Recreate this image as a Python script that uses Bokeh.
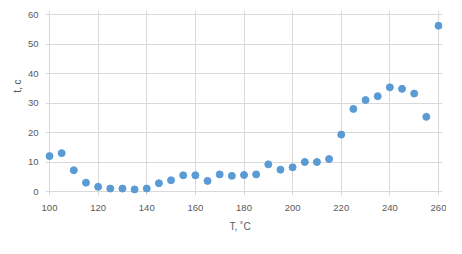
from bokeh.plotting import figure
from bokeh.models import Range1d, FixedTicker, Title
from bokeh.embed import file_html
from bokeh.resources import INLINE

T = [100, 105, 110, 115, 120, 125, 130, 135, 140, 145, 150, 155, 160, 165,
     170, 175, 180, 185, 190, 195, 200, 205, 210, 215, 220, 225, 230, 235,
     240, 245, 250, 255, 260]
t = [12.0, 13.0, 7.2, 3.0, 1.6, 1.0, 1.0, 0.7, 1.0, 2.8, 3.8, 5.5, 5.5, 3.6,
     5.8, 5.3, 5.6, 5.8, 9.2, 7.4, 8.2, 10.0, 10.0, 11.0, 19.3, 28.0, 31.0, 32.3,
     35.3, 34.8, 33.2, 25.3, 56.2]
x_ticks = [100, 120, 140, 160, 180, 200, 220, 240, 260]
y_ticks = [0, 10, 20, 30, 40, 50, 60]
x_title = "T, ˚C"
y_title = "t, c"

FONT = "Liberation Sans"
GRAY = "#595959"
GRID = "#d9d9d9"
BLUE = "#5b9bd5"

pad_x = 4 / 2.431
pad_y = 4 / 2.95

p = figure(width=446, height=238, output_backend="svg", toolbar_location=None,
           x_range=Range1d(x_ticks[0] - pad_x, x_ticks[-1] + pad_x),
           y_range=Range1d(y_ticks[0] - pad_y, y_ticks[-1] + pad_y),
           min_border_left=45, min_border_right=4, min_border_top=10,
           min_border_bottom=43)
p.outline_line_color = None
p.background_fill_color = "white"
p.border_fill_color = "white"

for ax in (p.xaxis[0], p.yaxis[0]):
    ax.axis_line_color = None
    ax.major_tick_line_color = None
    ax.minor_tick_line_color = None
    ax.major_tick_out = 0
    ax.major_tick_in = 0
    ax.major_label_text_color = GRAY
    ax.major_label_text_font = FONT
    ax.major_label_text_font_size = "9.5px"

p.xaxis.ticker = FixedTicker(ticks=x_ticks)
p.yaxis.ticker = FixedTicker(ticks=y_ticks)
p.xaxis.major_label_standoff = 9
p.yaxis.major_label_standoff = 7

p.xgrid.ticker = FixedTicker(ticks=x_ticks)
p.ygrid.ticker = FixedTicker(ticks=y_ticks)
p.xgrid.grid_line_color = GRID
p.ygrid.grid_line_color = GRID

p.scatter(T, t, size=7, marker="circle", fill_color=BLUE, line_color=BLUE)

xt = Title(text=x_title, align="left", offset=184, text_color=GRAY,
           text_font=FONT, text_font_size="10px", text_font_style="normal",
           standoff=11)
yt = Title(text=y_title, align="right", offset=69, text_color=GRAY,
           text_font=FONT, text_font_size="10px", text_font_style="normal",
           standoff=3)
p.add_layout(xt, "below")
p.add_layout(yt, "left")

open("out.html", "w").write(file_html(p, INLINE))
